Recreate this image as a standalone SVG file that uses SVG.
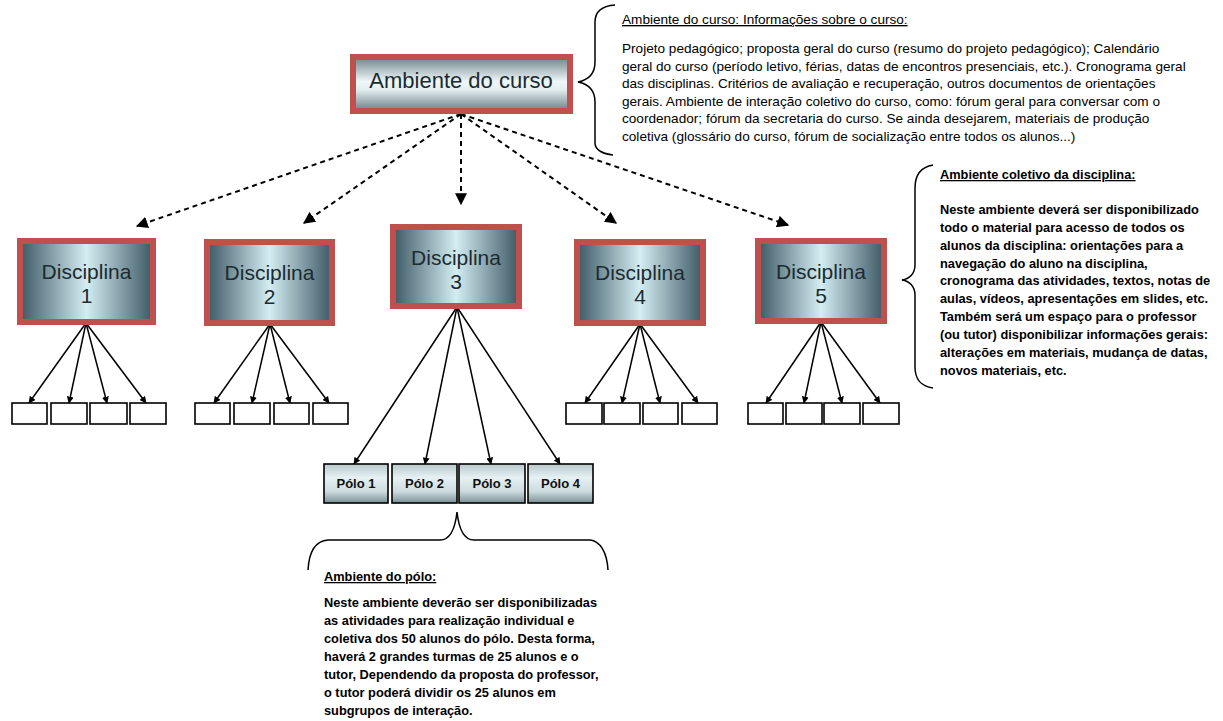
<svg xmlns="http://www.w3.org/2000/svg" width="1223" height="721" viewBox="0 0 1223 721">
<defs>
<linearGradient id="gH" x1="0" y1="0" x2="1" y2="0">
<stop offset="0" stop-color="#3c5864"/>
<stop offset="0.5" stop-color="#d3edf2"/>
<stop offset="1" stop-color="#3c5864"/>
</linearGradient>
<linearGradient id="gV" x1="0" y1="0" x2="0" y2="1">
<stop offset="0" stop-color="#6e8188"/>
<stop offset="0.45" stop-color="#eef6f8"/>
<stop offset="0.6" stop-color="#e4eff1"/>
<stop offset="1" stop-color="#6a7d84"/>
</linearGradient>
<linearGradient id="gP" x1="0" y1="0" x2="0" y2="1">
<stop offset="0" stop-color="#b9c9cd"/>
<stop offset="0.35" stop-color="#e6f1f3"/>
<stop offset="0.7" stop-color="#cddcdf"/>
<stop offset="1" stop-color="#7b9197"/>
</linearGradient>
<marker id="ah" viewBox="0 0 10 10" refX="9" refY="5" markerWidth="7" markerHeight="7" markerUnits="userSpaceOnUse" orient="auto">
<path d="M0,0 L10,5 L0,10 z" fill="#000"/>
</marker>
<marker id="ahd" viewBox="0 0 10 10" refX="9" refY="5" markerWidth="6" markerHeight="6" orient="auto">
<path d="M0,0 L10,5 L0,10 z" fill="#000"/>
</marker>
</defs>
<style>
.big{fill:url(#gH);stroke:#c0504d;stroke-width:6}
.top{fill:url(#gV);stroke:#c0504d;stroke-width:6}
.lbl{font-family:"Liberation Sans",Arial,sans-serif;font-size:22px;fill:#1c2b31;text-anchor:middle}
.dl{font-size:21px}
.leaf{fill:#fff;stroke:#000;stroke-width:1.6}
.polo{fill:url(#gP);stroke:#000;stroke-width:1.6}
.pt{font-family:"Liberation Sans",Arial,sans-serif;font-size:13px;font-weight:bold;fill:#111;text-anchor:middle}
.dash{stroke:#000;stroke-width:2;stroke-dasharray:5 4;fill:none;marker-end:url(#ahd)}
.sol{stroke:#000;stroke-width:1.5;fill:none;marker-end:url(#ah)}
.brace{fill:none;stroke:#000;stroke-width:1.5}
.t1{font-family:"Liberation Sans",Arial,sans-serif;font-size:13.6px;fill:#000}
.t2{font-family:"Liberation Sans",Arial,sans-serif;font-size:12.8px;font-weight:bold;fill:#000}
.u{text-decoration:underline}
</style>

<g id="connectors">
<line class="dash" x1="461" y1="114" x2="137" y2="226"/>
<line class="dash" x1="461" y1="114" x2="304" y2="223"/>
<line class="dash" x1="461" y1="114" x2="461" y2="204"/>
<line class="dash" x1="461" y1="114" x2="616" y2="223"/>
<line class="dash" x1="461" y1="114" x2="788" y2="225"/>
<line class="sol" x1="86" y1="323" x2="29" y2="403"/>
<line class="sol" x1="86" y1="323" x2="69" y2="403"/>
<line class="sol" x1="86" y1="323" x2="107" y2="403"/>
<line class="sol" x1="86" y1="323" x2="146" y2="403"/>
<line class="sol" x1="270" y1="324" x2="214" y2="403"/>
<line class="sol" x1="270" y1="324" x2="252" y2="403"/>
<line class="sol" x1="270" y1="324" x2="290" y2="403"/>
<line class="sol" x1="270" y1="324" x2="329" y2="403"/>
<line class="sol" x1="457" y1="307" x2="354" y2="464"/>
<line class="sol" x1="457" y1="307" x2="425" y2="464"/>
<line class="sol" x1="457" y1="307" x2="491" y2="464"/>
<line class="sol" x1="457" y1="307" x2="560" y2="464"/>
<line class="sol" x1="640" y1="324" x2="585" y2="403"/>
<line class="sol" x1="640" y1="324" x2="622" y2="403"/>
<line class="sol" x1="640" y1="324" x2="660" y2="403"/>
<line class="sol" x1="640" y1="324" x2="698" y2="403"/>
<line class="sol" x1="821" y1="322" x2="766" y2="403"/>
<line class="sol" x1="821" y1="322" x2="804" y2="403"/>
<line class="sol" x1="821" y1="322" x2="842" y2="403"/>
<line class="sol" x1="821" y1="322" x2="880" y2="403"/>
</g>

<g id="ambiente-curso">
<rect class="top" x="353" y="57" width="217" height="54"/>
<text class="lbl" x="461" y="88">Ambiente do curso</text>
</g>

<g id="disciplina-1">
<rect class="big" x="20" y="241" width="133" height="81"/>
<text class="lbl dl" x="86.5" y="279">Disciplina</text>
<text class="lbl dl" x="86.5" y="303">1</text>
</g>
<g id="disciplina-2">
<rect class="big" x="207" y="242" width="125" height="81"/>
<text class="lbl dl" x="269.5" y="280">Disciplina</text>
<text class="lbl dl" x="269.5" y="304">2</text>
</g>
<g id="disciplina-3">
<rect class="big" x="393" y="227" width="126" height="79"/>
<text class="lbl dl" x="456" y="265">Disciplina</text>
<text class="lbl dl" x="456" y="289">3</text>
</g>
<g id="disciplina-4">
<rect class="big" x="577" y="242" width="126" height="81"/>
<text class="lbl dl" x="640" y="280">Disciplina</text>
<text class="lbl dl" x="640" y="304">4</text>
</g>
<g id="disciplina-5">
<rect class="big" x="758" y="241" width="126" height="80"/>
<text class="lbl dl" x="821" y="279">Disciplina</text>
<text class="lbl dl" x="821" y="303">5</text>
</g>

<g id="leaves-1">
<rect class="leaf" x="12" y="403" width="35" height="21"/>
<rect class="leaf" x="51" y="403" width="36" height="21"/>
<rect class="leaf" x="90" y="403" width="37" height="21"/>
<rect class="leaf" x="130" y="403" width="36" height="21"/>
</g>
<g id="leaves-2">
<rect class="leaf" x="195" y="403" width="35" height="21"/>
<rect class="leaf" x="234" y="403" width="36" height="21"/>
<rect class="leaf" x="274" y="403" width="35" height="21"/>
<rect class="leaf" x="313" y="403" width="35" height="21"/>
</g>
<g id="leaves-4">
<rect class="leaf" x="566" y="403" width="36" height="21"/>
<rect class="leaf" x="604" y="403" width="36" height="21"/>
<rect class="leaf" x="643" y="403" width="35" height="21"/>
<rect class="leaf" x="682" y="403" width="35" height="21"/>
</g>
<g id="leaves-5">
<rect class="leaf" x="748" y="403" width="35" height="21"/>
<rect class="leaf" x="786" y="403" width="36" height="21"/>
<rect class="leaf" x="824" y="403" width="36" height="21"/>
<rect class="leaf" x="863" y="403" width="36" height="21"/>
</g>

<g id="polo-1"><rect class="polo" x="324" y="464" width="64" height="39"/><text class="pt" x="356" y="488">Pólo 1</text></g>
<g id="polo-2"><rect class="polo" x="392" y="464" width="65" height="39"/><text class="pt" x="424.5" y="488">Pólo 2</text></g>
<g id="polo-3"><rect class="polo" x="459" y="464" width="66" height="39"/><text class="pt" x="492" y="488">Pólo 3</text></g>
<g id="polo-4"><rect class="polo" x="528" y="464" width="65" height="39"/><text class="pt" x="560.5" y="488">Pólo 4</text></g>

<g id="brace-curso">
<path class="brace" d="M615,5 C601,6 595,12 595,22 L595,62 C595,74 588,80 578,82 C588,84 595,90 595,102 L595,143 C595,150 603,154 613,155"/>
<text class="t1 u" x="622" y="24">Ambiente do curso: Informações sobre o curso:</text>
<text class="t1" x="622" y="53">Projeto pedagógico; proposta geral do curso (resumo do projeto pedagógico); Calendário</text>
<text class="t1" x="622" y="71">geral do curso (período letivo, férias, datas de encontros presenciais, etc.). Cronograma geral</text>
<text class="t1" x="622" y="88">das disciplinas. Critérios de avaliação e recuperação, outros documentos de orientações</text>
<text class="t1" x="622" y="106">gerais. Ambiente de interação coletivo do curso, como: fórum geral para conversar com o</text>
<text class="t1" x="622" y="123">coordenador; fórum da secretaria do curso. Se ainda desejarem, materiais de produção</text>
<text class="t1" x="622" y="141">coletiva (glossário do curso, fórum de socialização entre todos os alunos...)</text>
</g>

<g id="brace-disciplina">
<path class="brace" d="M933,165 C921,167 915,175 915,188 L915,265 C915,274 909,279 902,280 C909,281 915,286 915,295 L915,367 C915,380 921,386 933,388"/>
<text class="t2 u" x="940" y="179">Ambiente coletivo da disciplina:</text>
<text class="t2" x="940" y="214">Neste ambiente deverá ser disponibilizado</text>
<text class="t2" x="940" y="232">todo o material para acesso de todos os</text>
<text class="t2" x="940" y="250">alunos da disciplina: orientações para a</text>
<text class="t2" x="940" y="268">navegação do aluno na disciplina,</text>
<text class="t2" x="940" y="285">cronograma das atividades, textos, notas de</text>
<text class="t2" x="940" y="303">aulas, vídeos, apresentações em slides, etc.</text>
<text class="t2" x="940" y="321">Também será um espaço para o professor</text>
<text class="t2" x="940" y="339">(ou tutor) disponibilizar informações gerais:</text>
<text class="t2" x="940" y="357">alterações em materiais, mudança de datas,</text>
<text class="t2" x="940" y="375">novos materiais, etc.</text>
</g>

<g id="brace-polo">
<path class="brace" d="M308,570 C309,552 315,541 328,540 L440,540 C450,540 455,530 457,512 C459,530 464,540 474,540 L590,540 C600,541 607,552 608,570"/>
<text class="t2 u" x="324" y="581">Ambiente do pólo:</text>
<text class="t2" x="324" y="607">Neste ambiente deverão ser disponibilizadas</text>
<text class="t2" x="324" y="625">as atividades para realização individual e</text>
<text class="t2" x="324" y="643">coletiva dos 50 alunos do pólo. Desta forma,</text>
<text class="t2" x="324" y="661">haverá 2 grandes turmas de 25 alunos e o</text>
<text class="t2" x="324" y="679">tutor, Dependendo da proposta do professor,</text>
<text class="t2" x="324" y="697">o tutor poderá dividir os 25 alunos em</text>
<text class="t2" x="324" y="715">subgrupos de interação.</text>
</g>
</svg>
